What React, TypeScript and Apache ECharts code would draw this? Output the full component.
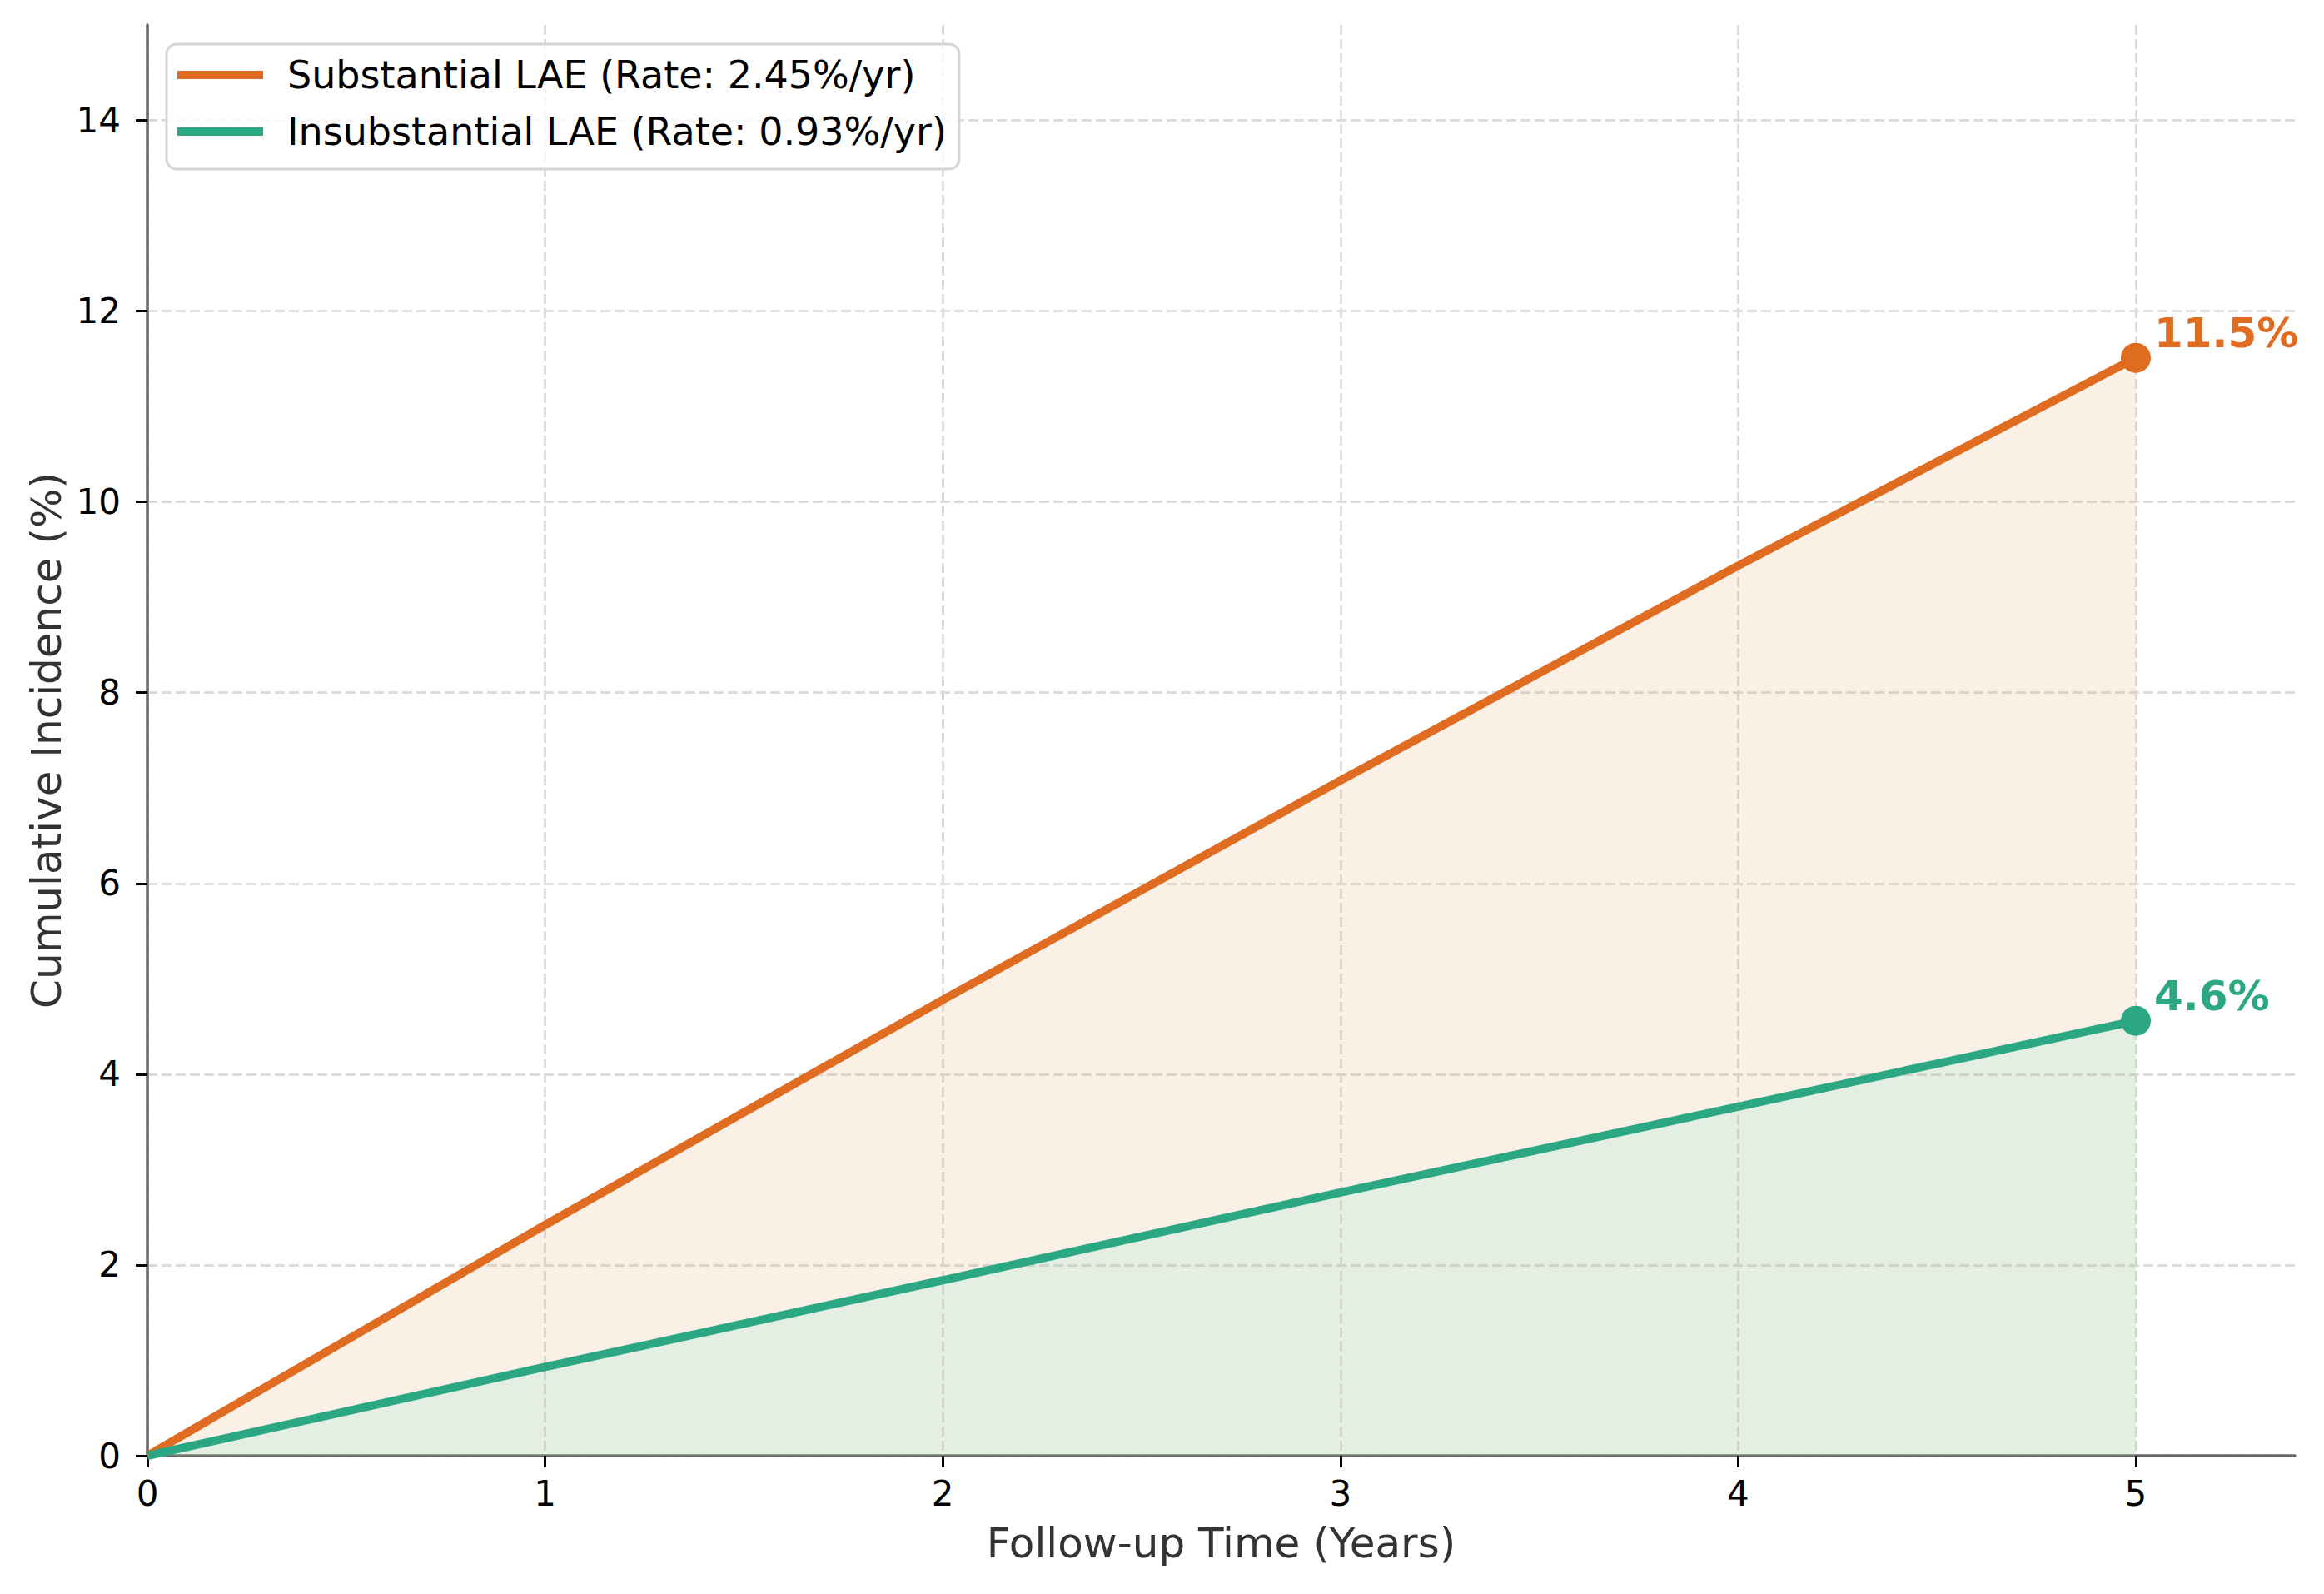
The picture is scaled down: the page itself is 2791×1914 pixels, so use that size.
import React, { useEffect, useRef } from 'react';
import * as echarts from 'echarts';

const years = [0, 1, 2, 3, 4, 5];
const substantial = [0, 2.42, 4.78, 7.08, 9.33, 11.51];
const insubstantial = [0, 0.93, 1.84, 2.76, 3.66, 4.56];
const seriesNames = ['Substantial LAE (Rate: 2.45%/yr)', 'Insubstantial LAE (Rate: 0.93%/yr)'];
const xTicks = [0, 1, 2, 3, 4, 5];
const yTicks = [0, 2, 4, 6, 8, 10, 12, 14];
const colors = ['#E06C22', '#2BA784'];
const areaColors = ['rgba(222,155,88,0.15)', 'rgba(117,227,205,0.15)'];

const FONT = 'DejaVu Sans';

export default function App() {
  const ref = useRef<HTMLDivElement>(null);
  useEffect(() => {
    document.body.style.margin = '0';
    if (!ref.current) return;
    const chart = echarts.init(ref.current, undefined, { renderer: 'svg' });
    const allSeries = [substantial, insubstantial];
    const lineSeries = allSeries.map((vals, i) => ({
      name: seriesNames[i],
      type: 'line',
      data: years.map((x, j) => [x, vals[j]]),
      symbol: 'none',
      lineStyle: { color: colors[i], width: 10 },
      itemStyle: { color: colors[i] },
      areaStyle: { color: areaColors[i], origin: 0, opacity: 1 },
      z: 2 + i,
    }));
    const endSeries = allSeries.map((vals, i) => ({
      name: seriesNames[i] + ' end',
      type: 'scatter',
      data: [[years[years.length - 1], vals[vals.length - 1]]],
      symbol: 'circle',
      symbolSize: 36,
      itemStyle: { color: colors[i], opacity: 1 },
      z: 5,
      label: {
        show: true,
        position: 'right',
        distance: 4,
        offset: [0, -30],
        formatter: (p: any) => p.value[1].toFixed(1) + '%',
        fontSize: 50,
        fontWeight: 'bold',
        fontFamily: FONT,
        color: colors[i],
      },
    }));
    chart.setOption({
      animation: false,
      backgroundColor: '#fff',
      grid: { left: 177, right: 35, top: 30, bottom: 166, containLabel: false },
      legend: {
        data: seriesNames,
        orient: 'vertical',
        left: 200,
        top: 53,
        padding: [14, 15, 22, 13],
        itemWidth: 103,
        itemHeight: 10,
        icon: 'rect',
        itemGap: 22,
        backgroundColor: 'rgba(255,255,255,0.8)',
        borderColor: '#d5d5d5',
        borderWidth: 3,
        borderRadius: 12,
        textStyle: { fontSize: 46, lineHeight: 46, color: '#000', fontFamily: FONT, padding: [0, 0, 0, 24] },
      },
      xAxis: {
        type: 'value',
        min: 0,
        max: 5.4,
        interval: 1,
        name: 'Follow-up Time (Years)',
        nameLocation: 'middle',
        nameGap: 80,
        nameTextStyle: { fontSize: 50, color: '#333', fontFamily: FONT },
        axisLine: { show: true, onZero: false, lineStyle: { color: '#666', width: 3.5 } },
        axisTick: { show: true, length: 14, lineStyle: { color: '#000', width: 3 }, customValues: xTicks },
        axisLabel: {
          customValues: xTicks,
          fontSize: 42,
          color: '#000',
          margin: 24,
          fontFamily: FONT,
          formatter: (v: number) => String(v),
        },
        splitLine: { show: true, lineStyle: { color: '#dcdcdc', width: 3, type: [12, 5] } },
      },
      yAxis: {
        type: 'value',
        min: 0,
        max: 15,
        interval: 2,
        name: 'Cumulative Incidence (%)',
        nameLocation: 'middle',
        nameRotate: 90,
        nameGap: 84,
        nameTextStyle: { fontSize: 50, color: '#333', fontFamily: FONT },
        axisLine: { show: true, onZero: false, lineStyle: { color: '#666', width: 3.5 } },
        axisTick: { show: true, length: 14, lineStyle: { color: '#000', width: 3 }, customValues: yTicks },
        axisLabel: {
          customValues: yTicks,
          fontSize: 42,
          color: '#000',
          margin: 32,
          fontFamily: FONT,
          formatter: (v: number) => String(v),
        },
        splitLine: { show: true, lineStyle: { color: '#dcdcdc', width: 3, type: [12, 5] } },
      },
      series: [...lineSeries, ...endSeries],
    });
    return () => chart.dispose();
  }, []);
  return <div ref={ref} style={{ width: 2791, height: 1914 }} />;
}
